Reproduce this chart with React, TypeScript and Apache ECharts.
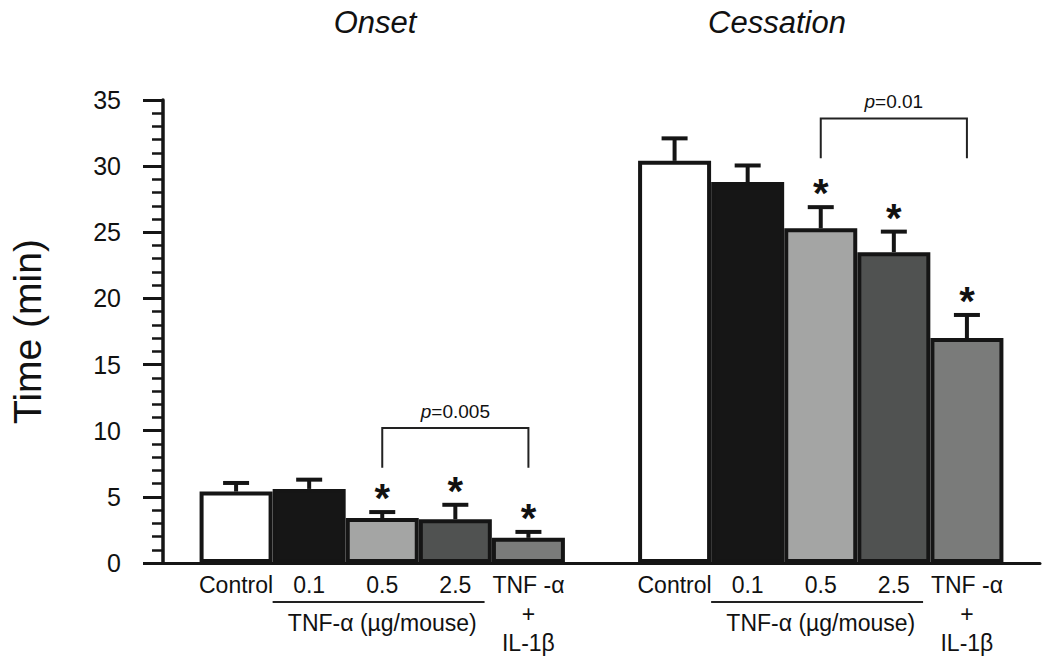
import { useEffect, useRef } from 'react';
import * as echarts from 'echarts';

// ---- data ----
const groupTitles = ['Onset', 'Cessation'];
const categories = ['Control', '0.1', '0.5', '2.5', 'TNF -α\n+\nIL-1β'];
const onsetMeans = [5.4, 5.6, 3.4, 3.3, 1.9];
const onsetErrors = [0.65, 0.7, 0.45, 1.1, 0.45];
const onsetSignificant = [false, false, true, true, true];
const cessationMeans = [30.4, 28.8, 25.3, 23.5, 17.0];
const cessationErrors = [1.7, 1.25, 1.6, 1.55, 1.75];
const cessationSignificant = [false, false, true, true, true];
const groupStarts = [0, 6];
const doseLabel = 'TNF-α (µg/mouse)';
const pValues = ['0.005', '0.01'];
const bracketFrom = 2;
const bracketTo = 4;
const bracketTops = [10.2, 33.6];
const bracketLegs = [7.2, 30.6];
const yMin = 0;
const yMax = 35;
const yInterval = 5;

// ---- styles ----
const barColors = ['#ffffff', '#161616', '#a4a5a4', '#505251', '#7a7b7a'];
const INK = '#151515';
const FONT = '"Liberation Sans", Arial, Helvetica, sans-serif';

export default function App() {
  const ref = useRef<HTMLDivElement>(null);

  useEffect(() => {
    if (!ref.current) return;
    const chart = echarts.init(ref.current, null, { renderer: 'svg' });

    const means = [onsetMeans, cessationMeans];
    const errors = [onsetErrors, cessationErrors];
    const sig = [onsetSignificant, cessationSignificant];

    const barData: any[] = [];
    const errData: any[] = [];
    groupStarts.forEach((start, g) => {
      categories.forEach((_, i) => {
        barData.push({
          value: [start + i, means[g][i]],
          itemStyle: { color: barColors[i] },
        });
        errData.push([start + i, means[g][i], errors[g][i], sig[g][i] ? 1 : 0]);
      });
    });

    const bracketData = groupStarts.map((start, g) => [
      start + bracketFrom,
      start + bracketTo,
      bracketTops[g],
      bracketLegs[g],
      g,
    ]);

    const doseData = groupStarts.map((start) => [start + 0.5, start + 3.4, start + 2, 0]);

    const labelFor = (v: number) => {
      for (const s of groupStarts) {
        const idx = Math.round(v) - s;
        if (Math.abs(v - Math.round(v)) < 1e-6 && idx >= 0 && idx < categories.length) {
          return categories[idx];
        }
      }
      return '';
    };

    chart.setOption({
      animation: false,
      backgroundColor: '#ffffff',
      grid: { left: 163, right: 10, top: 100, bottom: 109, containLabel: false },
      xAxis: {
        type: 'value',
        min: -1,
        max: 11,
        interval: 1,
        splitLine: { show: false },
        axisTick: { show: false },
        axisLine: { show: true, onZero: false, lineStyle: { color: INK, width: 3 } },
        axisLabel: {
          formatter: (v: number) => labelFor(v),
          color: '#111',
          fontFamily: FONT,
          fontSize: 23,
          lineHeight: 29,
          margin: 7,
          showMinLabel: true,
          showMaxLabel: true,
          hideOverlap: false,
        },
      },
      yAxis: {
        type: 'value',
        min: yMin,
        max: yMax,
        interval: yInterval,
        name: 'Time (min)',
        nameLocation: 'middle',
        nameGap: 116,
        nameTextStyle: { fontFamily: FONT, fontSize: 39, color: '#111' },
        splitLine: { show: false },
        axisLine: { show: true, onZero: false, lineStyle: { color: INK, width: 3.5 } },
        axisTick: { show: true, length: 20, lineStyle: { color: INK, width: 3 } },
        minorTick: { show: true, splitNumber: 5, length: 11, lineStyle: { color: INK, width: 2.5 } },
        minorSplitLine: { show: false },
        axisLabel: { fontFamily: FONT, fontSize: 25, color: '#111', margin: 42 },
      },
      graphic: [
        {
          type: 'text',
          x: 375,
          y: 22,
          style: {
            text: groupTitles[0],
            fontFamily: FONT,
            fontSize: 31,
            fontStyle: 'italic',
            fill: '#111',
            align: 'center',
            verticalAlign: 'middle',
          },
        },
        {
          type: 'text',
          x: 777,
          y: 22,
          style: {
            text: groupTitles[1],
            fontFamily: FONT,
            fontSize: 31,
            fontStyle: 'italic',
            fill: '#111',
            align: 'center',
            verticalAlign: 'middle',
          },
        },
      ],
      series: [
        {
          type: 'bar',
          data: barData,
          barWidth: 73,
          itemStyle: { borderColor: INK, borderWidth: 4 },
          z: 2,
        },
        {
          type: 'custom',
          data: errData,
          encode: { x: 0, y: 1 },
          z: 3,
          clip: false,
          renderItem: (params: any, api: any) => {
            const x = api.value(0);
            const m = api.value(1);
            const e = api.value(2);
            const s = api.value(3);
            const base = api.coord([x, m]);
            const top = api.coord([x, m + e]);
            const children: any[] = [
              {
                type: 'line',
                shape: { x1: base[0], y1: base[1], x2: top[0], y2: top[1] },
                style: { stroke: INK, lineWidth: 4 },
              },
              {
                type: 'line',
                shape: { x1: top[0] - 13, y1: top[1], x2: top[0] + 13, y2: top[1] },
                style: { stroke: INK, lineWidth: 4 },
              },
            ];
            if (s) {
              children.push({
                type: 'text',
                x: top[0],
                y: top[1] - 14,
                style: {
                  text: '*',
                  fontFamily: FONT,
                  fontSize: 40,
                  fontWeight: 'bold',
                  fill: '#111',
                  align: 'center',
                  verticalAlign: 'middle',
                },
              });
            }
            return { type: 'group', children };
          },
        },
        {
          type: 'custom',
          data: bracketData,
          encode: { x: [0, 1], y: [2, 3] },
          z: 3,
          clip: false,
          renderItem: (params: any, api: any) => {
            const a = api.coord([api.value(0), api.value(2)]);
            const b = api.coord([api.value(1), api.value(2)]);
            const leg = api.coord([api.value(0), api.value(3)]);
            const g = api.value(4);
            return {
              type: 'group',
              children: [
                {
                  type: 'polyline',
                  shape: {
                    points: [
                      [a[0], leg[1]],
                      [a[0], a[1]],
                      [b[0], b[1]],
                      [b[0], leg[1]],
                    ],
                  },
                  style: { stroke: '#222', lineWidth: 2, fill: 'none' },
                },
                {
                  type: 'text',
                  x: (a[0] + b[0]) / 2,
                  y: a[1] - 17,
                  style: {
                    text: '{i|p}=' + pValues[g],
                    fontFamily: FONT,
                    fontSize: 19,
                    fill: '#111',
                    align: 'center',
                    verticalAlign: 'middle',
                    rich: {
                      i: { fontFamily: FONT, fontSize: 19, fontStyle: 'italic', fill: '#111' },
                    },
                  },
                },
              ],
            };
          },
        },
        {
          type: 'custom',
          data: doseData,
          encode: { x: [0, 1, 2], y: 3 },
          z: 3,
          clip: false,
          renderItem: (params: any, api: any) => {
            const p1 = api.coord([api.value(0), 0]);
            const p2 = api.coord([api.value(1), 0]);
            const pt = api.coord([api.value(2), 0]);
            return {
              type: 'group',
              children: [
                {
                  type: 'line',
                  shape: { x1: p1[0], y1: p1[1] + 39, x2: p2[0], y2: p1[1] + 39 },
                  style: { stroke: '#222', lineWidth: 2 },
                },
                {
                  type: 'text',
                  x: pt[0],
                  y: p1[1] + 60,
                  style: {
                    text: doseLabel,
                    fontFamily: FONT,
                    fontSize: 23,
                    fill: '#111',
                    align: 'center',
                    verticalAlign: 'middle',
                  },
                },
              ],
            };
          },
        },
      ],
    });

    return () => chart.dispose();
  }, []);

  return (
    <div
      ref={ref}
      style={{ position: 'fixed', left: 0, top: 0, width: 1050, height: 672, background: '#fff' }}
    />
  );
}
